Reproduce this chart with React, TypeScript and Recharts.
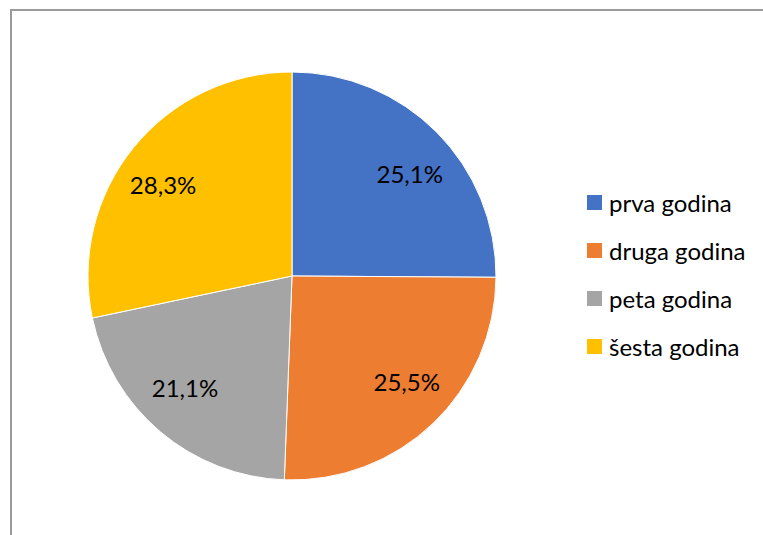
import React from "react";
import { PieChart, Pie, Cell, Legend } from "recharts";

const categories = ["prva godina", "druga godina", "peta godina", "šesta godina"];
const values = [25.1, 25.5, 21.1, 28.3];
const colors = ["#4472C4", "#ED7D31", "#A5A5A5", "#FFC000"];

const data = categories.map((name, i) => ({ name, value: values[i] }));

const FONT = "Lato, 'Open Sans', sans-serif";
const RAD = Math.PI / 180;

const renderLabel = (props: any) => {
  const { cx, cy, midAngle, index } = props;
  const rx = 166;
  const ry = 146;
  const x = cx + rx * Math.cos(-midAngle * RAD);
  const y = cy + ry * Math.sin(-midAngle * RAD);
  return (
    <text
      x={x}
      y={y}
      textAnchor="middle"
      dominantBaseline="central"
      fill="#000"
      fontFamily={FONT}
      fontSize={24}
    >
      {values[index].toFixed(1).replace(".", ",")}%
    </text>
  );
};

const renderLegend = () => (
  <div style={{ fontFamily: FONT, fontSize: 24, color: "#000" }}>
    {categories.map((c, i) => (
      <div key={c} style={{ display: "flex", alignItems: "center", height: 48 }}>
        <span
          style={{
            display: "inline-block",
            width: 15,
            height: 15,
            background: colors[i],
            marginRight: 7,
          }}
        />
        <span>{c}</span>
      </div>
    ))}
  </div>
);

export default function App() {
  return (
    <div style={{ position: "absolute", left: 0, top: 0, width: 763, height: 535, overflow: "hidden", background: "#fff" }}>
      <div
        style={{
          position: "absolute",
          left: 10,
          top: 9,
          width: 900,
          height: 900,
          borderTop: "2px solid #9a9a9a",
          borderLeft: "2px solid #9a9a9a",
        }}
      />
      <div style={{ position: "absolute", left: 0, top: 0 }}>
        <PieChart width={763} height={535} margin={{ top: 0, right: 0, bottom: 0, left: 0 }}>
          <Pie
            data={data}
            dataKey="value"
            nameKey="name"
            cx={292}
            cy={276}
            outerRadius={204}
            startAngle={90}
            endAngle={-270}
            stroke="#fff"
            strokeWidth={1}
            label={renderLabel}
            labelLine={false}
            isAnimationActive={false}
          >
            {data.map((d, i) => (
              <Cell key={d.name} fill={colors[i]} />
            ))}
          </Pie>
          <Legend
            content={renderLegend}
            layout="vertical"
            wrapperStyle={{ position: "absolute", left: 587, top: 178, width: 180 }}
          />
        </PieChart>
      </div>
    </div>
  );
}
